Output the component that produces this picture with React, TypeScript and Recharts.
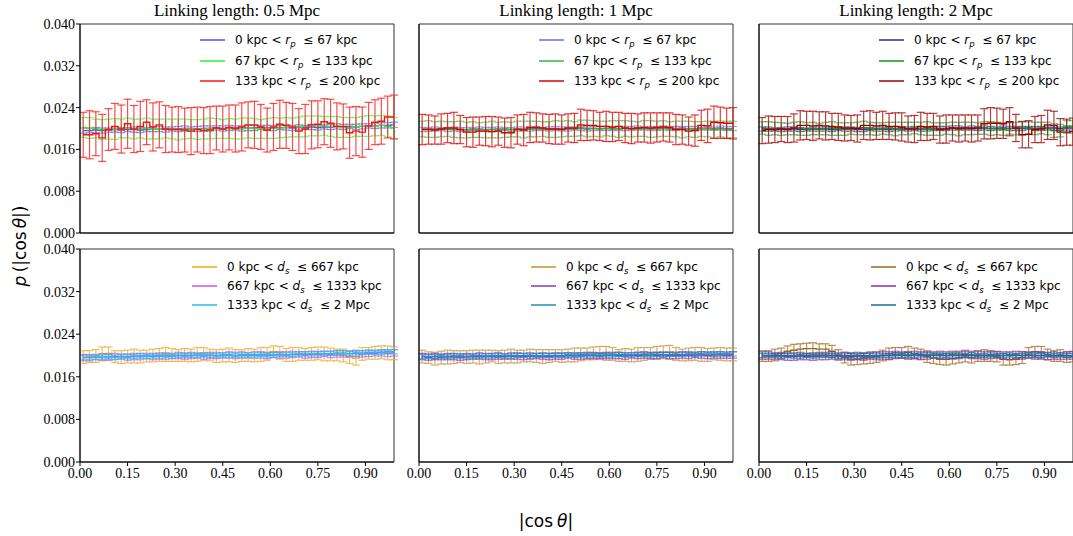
import React from 'react';
import { LineChart, Line, XAxis, YAxis, ErrorBar, ReferenceArea, Legend } from 'recharts';

// bin centres of |cos theta|
const binCenters = [0.01,0.03,0.05,0.07,0.09,0.11,0.13,0.15,0.17,0.19,0.21,0.23,0.25,0.27,0.29,0.31,0.33,0.35,0.37,0.39,0.41,0.43,0.45,0.47,0.49,0.51,0.53,0.55,0.57,0.59,0.61,0.63,0.65,0.67,0.69,0.71,0.73,0.75,0.77,0.79,0.81,0.83,0.85,0.87,0.89,0.91,0.93,0.95,0.97,0.99];

const yTicks = [0, 0.008, 0.016, 0.024, 0.032, 0.04];
const xTicks = [0, 0.15, 0.3, 0.45, 0.6, 0.75, 0.9];

const columnTitles = ['Linking length: 0.5 Mpc', 'Linking length: 1 Mpc', 'Linking length: 2 Mpc'];
const rpLower = ['0 kpc', '67 kpc', '133 kpc'];
const rpUpper = ['67 kpc', '133 kpc', '200 kpc'];
const dsLower = ['0 kpc', '667 kpc', '1333 kpc'];
const dsUpper = ['667 kpc', '1333 kpc', '2 Mpc'];

// ---- Top row: projected separation r_p ----
const ll05_rp1 = [0.0196,0.0196,0.0197,0.0196,0.0197,0.0198,0.0197,0.0198,0.0198,0.0197,0.0198,0.0199,0.0199,0.0198,0.0199,0.0199,0.0200,0.0199,0.0199,0.0200,0.0200,0.0201,0.0200,0.0201,0.0201,0.0200,0.0201,0.0201,0.0202,0.0201,0.0201,0.0202,0.0202,0.0201,0.0202,0.0202,0.0203,0.0202,0.0203,0.0203,0.0204,0.0203,0.0204,0.0203,0.0204,0.0205,0.0205,0.0206,0.0206,0.0207];
const ll05_rp1_err = [0.0005,0.0004,0.0005,0.0005,0.0004,0.0005,0.0005,0.0004,0.0005,0.0005,0.0004,0.0005,0.0005,0.0005,0.0004,0.0005,0.0005,0.0004,0.0005,0.0005,0.0005,0.0004,0.0005,0.0005,0.0004,0.0005,0.0005,0.0005,0.0004,0.0005,0.0005,0.0004,0.0005,0.0005,0.0005,0.0004,0.0005,0.0005,0.0004,0.0005,0.0005,0.0005,0.0004,0.0005,0.0005,0.0004,0.0005,0.0005,0.0005,0.0005];
const ll05_rp2 = [0.0202,0.0201,0.0200,0.0198,0.0199,0.0199,0.0200,0.0201,0.0199,0.0200,0.0200,0.0199,0.0199,0.0200,0.0199,0.0198,0.0199,0.0199,0.0198,0.0199,0.0200,0.0200,0.0199,0.0200,0.0199,0.0200,0.0201,0.0200,0.0199,0.0200,0.0201,0.0201,0.0202,0.0202,0.0203,0.0204,0.0205,0.0205,0.0205,0.0204,0.0203,0.0202,0.0202,0.0203,0.0204,0.0205,0.0205,0.0206,0.0204,0.0201];
const ll05_rp2_err = [0.0019,0.0020,0.0018,0.0019,0.0019,0.0020,0.0018,0.0019,0.0019,0.0018,0.0020,0.0019,0.0019,0.0018,0.0019,0.0020,0.0019,0.0018,0.0019,0.0019,0.0020,0.0019,0.0018,0.0019,0.0019,0.0020,0.0019,0.0019,0.0018,0.0019,0.0020,0.0019,0.0019,0.0018,0.0019,0.0020,0.0019,0.0019,0.0018,0.0019,0.0020,0.0019,0.0019,0.0018,0.0019,0.0020,0.0019,0.0019,0.0020,0.0020];
const ll05_rp3 = [0.0188,0.0188,0.0190,0.0182,0.0198,0.0204,0.0199,0.0209,0.0199,0.0204,0.0212,0.0203,0.0207,0.0199,0.0198,0.0198,0.0197,0.0195,0.0198,0.0196,0.0197,0.0201,0.0199,0.0202,0.0200,0.0203,0.0207,0.0207,0.0203,0.0197,0.0203,0.0208,0.0206,0.0203,0.0195,0.0199,0.0207,0.0208,0.0213,0.0210,0.0204,0.0204,0.0192,0.0195,0.0193,0.0205,0.0212,0.0214,0.0222,0.0222];
const ll05_rp3_err = [0.0043,0.0046,0.0042,0.0045,0.0040,0.0044,0.0046,0.0047,0.0045,0.0048,0.0043,0.0046,0.0044,0.0045,0.0043,0.0044,0.0042,0.0045,0.0043,0.0044,0.0045,0.0042,0.0044,0.0043,0.0045,0.0046,0.0044,0.0045,0.0043,0.0042,0.0045,0.0046,0.0044,0.0045,0.0043,0.0047,0.0046,0.0045,0.0044,0.0046,0.0045,0.0043,0.0049,0.0047,0.0048,0.0045,0.0043,0.0044,0.0040,0.0042];

const ll1_rp1 = [0.0198,0.0198,0.0199,0.0199,0.0198,0.0199,0.0198,0.0198,0.0199,0.0199,0.0198,0.0198,0.0199,0.0199,0.0198,0.0199,0.0199,0.0199,0.0200,0.0199,0.0199,0.0200,0.0199,0.0199,0.0200,0.0200,0.0199,0.0200,0.0200,0.0200,0.0199,0.0200,0.0200,0.0200,0.0201,0.0200,0.0200,0.0200,0.0201,0.0200,0.0200,0.0201,0.0200,0.0200,0.0201,0.0201,0.0200,0.0201,0.0200,0.0200];
const ll1_rp1_err = [0.0004,0.0004,0.0004,0.0003,0.0004,0.0004,0.0004,0.0004,0.0003,0.0004,0.0004,0.0004,0.0004,0.0003,0.0004,0.0004,0.0004,0.0004,0.0004,0.0003,0.0004,0.0004,0.0004,0.0004,0.0003,0.0004,0.0004,0.0004,0.0004,0.0004,0.0003,0.0004,0.0004,0.0004,0.0004,0.0003,0.0004,0.0004,0.0004,0.0004,0.0004,0.0003,0.0004,0.0004,0.0004,0.0004,0.0003,0.0004,0.0004,0.0004];
const ll1_rp2 = [0.0199,0.0199,0.0198,0.0199,0.0199,0.0198,0.0198,0.0197,0.0198,0.0197,0.0197,0.0198,0.0197,0.0198,0.0198,0.0199,0.0198,0.0199,0.0199,0.0199,0.0198,0.0199,0.0199,0.0200,0.0199,0.0201,0.0200,0.0200,0.0199,0.0200,0.0200,0.0199,0.0200,0.0199,0.0199,0.0200,0.0199,0.0199,0.0200,0.0199,0.0199,0.0198,0.0199,0.0198,0.0199,0.0199,0.0198,0.0199,0.0198,0.0198];
const ll1_rp2_err = [0.0015,0.0016,0.0015,0.0015,0.0014,0.0015,0.0016,0.0015,0.0015,0.0014,0.0015,0.0016,0.0015,0.0015,0.0014,0.0015,0.0016,0.0015,0.0015,0.0014,0.0015,0.0016,0.0015,0.0015,0.0014,0.0015,0.0016,0.0015,0.0015,0.0014,0.0015,0.0016,0.0015,0.0015,0.0014,0.0015,0.0016,0.0015,0.0015,0.0014,0.0015,0.0016,0.0015,0.0015,0.0014,0.0015,0.0016,0.0015,0.0016,0.0016];
const ll1_rp3 = [0.0198,0.0198,0.0197,0.0199,0.0201,0.0201,0.0198,0.0193,0.0193,0.0195,0.0195,0.0194,0.0195,0.0192,0.0192,0.0198,0.0197,0.0202,0.0202,0.0201,0.0199,0.0199,0.0198,0.0201,0.0201,0.0207,0.0206,0.0206,0.0204,0.0204,0.0203,0.0204,0.0201,0.0200,0.0201,0.0202,0.0201,0.0202,0.0203,0.0202,0.0198,0.0198,0.0195,0.0196,0.0206,0.0205,0.0212,0.0211,0.0210,0.0210];
const ll1_rp3_err = [0.0029,0.0028,0.0027,0.0029,0.0028,0.0030,0.0027,0.0028,0.0029,0.0027,0.0028,0.0029,0.0027,0.0028,0.0029,0.0028,0.0030,0.0029,0.0028,0.0027,0.0028,0.0029,0.0028,0.0027,0.0028,0.0030,0.0029,0.0028,0.0027,0.0029,0.0028,0.0027,0.0028,0.0029,0.0027,0.0028,0.0029,0.0028,0.0027,0.0028,0.0029,0.0028,0.0027,0.0030,0.0029,0.0032,0.0031,0.0030,0.0029,0.0030];

const ll2_rp1 = [0.0199,0.0199,0.0198,0.0198,0.0199,0.0199,0.0198,0.0198,0.0199,0.0199,0.0199,0.0198,0.0199,0.0199,0.0199,0.0198,0.0198,0.0199,0.0199,0.0199,0.0198,0.0199,0.0199,0.0199,0.0200,0.0199,0.0199,0.0199,0.0200,0.0200,0.0201,0.0201,0.0200,0.0201,0.0200,0.0201,0.0200,0.0200,0.0201,0.0200,0.0200,0.0200,0.0201,0.0200,0.0200,0.0201,0.0201,0.0200,0.0201,0.0201];
const ll2_rp1_err = [0.0004,0.0004,0.0003,0.0004,0.0004,0.0004,0.0004,0.0003,0.0004,0.0004,0.0004,0.0004,0.0003,0.0004,0.0004,0.0004,0.0004,0.0003,0.0004,0.0004,0.0004,0.0004,0.0003,0.0004,0.0004,0.0004,0.0004,0.0003,0.0004,0.0004,0.0004,0.0004,0.0003,0.0004,0.0004,0.0004,0.0004,0.0003,0.0004,0.0004,0.0004,0.0004,0.0003,0.0004,0.0004,0.0004,0.0004,0.0003,0.0004,0.0004];
const ll2_rp2 = [0.0201,0.0200,0.0200,0.0199,0.0199,0.0200,0.0200,0.0199,0.0200,0.0199,0.0200,0.0200,0.0199,0.0199,0.0200,0.0200,0.0201,0.0200,0.0199,0.0200,0.0200,0.0199,0.0200,0.0200,0.0201,0.0200,0.0200,0.0199,0.0199,0.0200,0.0200,0.0199,0.0200,0.0200,0.0200,0.0201,0.0200,0.0200,0.0199,0.0200,0.0200,0.0201,0.0201,0.0200,0.0201,0.0200,0.0196,0.0196,0.0203,0.0203];
const ll2_rp2_err = [0.0012,0.0013,0.0012,0.0012,0.0011,0.0012,0.0013,0.0012,0.0012,0.0011,0.0012,0.0013,0.0012,0.0012,0.0011,0.0012,0.0013,0.0012,0.0012,0.0011,0.0012,0.0013,0.0012,0.0012,0.0011,0.0012,0.0013,0.0012,0.0012,0.0011,0.0012,0.0013,0.0012,0.0012,0.0011,0.0012,0.0013,0.0012,0.0012,0.0011,0.0012,0.0013,0.0012,0.0012,0.0011,0.0012,0.0013,0.0012,0.0012,0.0012];
const ll2_rp3 = [0.0196,0.0198,0.0198,0.0199,0.0198,0.0201,0.0206,0.0206,0.0205,0.0206,0.0205,0.0204,0.0203,0.0201,0.0201,0.0200,0.0206,0.0206,0.0205,0.0206,0.0204,0.0204,0.0203,0.0199,0.0199,0.0204,0.0203,0.0204,0.0198,0.0199,0.0201,0.0200,0.0201,0.0200,0.0201,0.0209,0.0210,0.0210,0.0209,0.0213,0.0201,0.0188,0.0189,0.0198,0.0199,0.0207,0.0206,0.0193,0.0193,0.0194];
const ll2_rp3_err = [0.0025,0.0026,0.0025,0.0024,0.0025,0.0027,0.0028,0.0027,0.0028,0.0026,0.0027,0.0025,0.0026,0.0025,0.0024,0.0026,0.0027,0.0028,0.0026,0.0027,0.0025,0.0026,0.0027,0.0025,0.0026,0.0027,0.0026,0.0025,0.0026,0.0027,0.0025,0.0026,0.0025,0.0026,0.0025,0.0029,0.0030,0.0029,0.0028,0.0027,0.0026,0.0025,0.0026,0.0025,0.0026,0.0028,0.0027,0.0026,0.0025,0.0026];

// ---- Bottom row: 3D separation d_s ----
const ll05_ds1 = [0.0197,0.0198,0.0199,0.0203,0.0204,0.0198,0.0197,0.0198,0.0199,0.0198,0.0199,0.0200,0.0201,0.0202,0.0201,0.0200,0.0201,0.0200,0.0202,0.0203,0.0201,0.0199,0.0200,0.0201,0.0199,0.0200,0.0201,0.0200,0.0202,0.0203,0.0207,0.0205,0.0201,0.0202,0.0203,0.0202,0.0203,0.0204,0.0203,0.0202,0.0201,0.0200,0.0197,0.0195,0.0203,0.0204,0.0205,0.0206,0.0205,0.0204];
const ll05_ds1_err = [0.0012,0.0011,0.0012,0.0013,0.0012,0.0011,0.0012,0.0012,0.0013,0.0012,0.0011,0.0012,0.0012,0.0013,0.0012,0.0011,0.0012,0.0012,0.0013,0.0012,0.0011,0.0012,0.0012,0.0013,0.0012,0.0011,0.0012,0.0012,0.0013,0.0012,0.0011,0.0012,0.0012,0.0013,0.0012,0.0011,0.0012,0.0012,0.0013,0.0012,0.0011,0.0012,0.0012,0.0013,0.0012,0.0011,0.0012,0.0012,0.0013,0.0012];
const ll05_ds2 = [0.0196,0.0196,0.0197,0.0197,0.0197,0.0198,0.0198,0.0197,0.0198,0.0198,0.0199,0.0198,0.0199,0.0199,0.0199,0.0200,0.0199,0.0200,0.0200,0.0199,0.0200,0.0200,0.0200,0.0201,0.0200,0.0201,0.0200,0.0201,0.0201,0.0200,0.0201,0.0201,0.0201,0.0202,0.0202,0.0201,0.0202,0.0202,0.0203,0.0202,0.0203,0.0203,0.0203,0.0204,0.0203,0.0204,0.0204,0.0205,0.0204,0.0205];
const ll05_ds2_err = [0.0006,0.0006,0.0005,0.0006,0.0006,0.0006,0.0005,0.0006,0.0006,0.0006,0.0005,0.0006,0.0006,0.0006,0.0005,0.0006,0.0006,0.0006,0.0005,0.0006,0.0006,0.0006,0.0005,0.0006,0.0006,0.0006,0.0005,0.0006,0.0006,0.0006,0.0005,0.0006,0.0006,0.0006,0.0005,0.0006,0.0006,0.0006,0.0005,0.0006,0.0006,0.0006,0.0005,0.0006,0.0006,0.0006,0.0005,0.0006,0.0006,0.0006];
const ll05_ds3 = [0.0196,0.0196,0.0197,0.0197,0.0198,0.0197,0.0198,0.0198,0.0198,0.0199,0.0198,0.0199,0.0199,0.0200,0.0199,0.0200,0.0200,0.0200,0.0200,0.0201,0.0200,0.0200,0.0201,0.0201,0.0200,0.0201,0.0201,0.0201,0.0202,0.0201,0.0201,0.0202,0.0202,0.0202,0.0203,0.0203,0.0203,0.0203,0.0204,0.0204,0.0205,0.0205,0.0204,0.0205,0.0205,0.0206,0.0206,0.0206,0.0207,0.0207];
const ll05_ds3_err = [0.0004,0.0004,0.0004,0.0004,0.0004,0.0004,0.0004,0.0004,0.0004,0.0004,0.0004,0.0004,0.0004,0.0004,0.0004,0.0004,0.0004,0.0004,0.0004,0.0004,0.0004,0.0004,0.0004,0.0004,0.0004,0.0004,0.0004,0.0004,0.0004,0.0004,0.0004,0.0004,0.0004,0.0004,0.0004,0.0004,0.0004,0.0004,0.0004,0.0004,0.0004,0.0004,0.0004,0.0004,0.0004,0.0004,0.0004,0.0004,0.0004,0.0004];

const ll1_ds1 = [0.0198,0.0196,0.0194,0.0196,0.0197,0.0197,0.0198,0.0197,0.0198,0.0197,0.0198,0.0199,0.0197,0.0198,0.0199,0.0198,0.0199,0.0200,0.0199,0.0198,0.0199,0.0200,0.0199,0.0200,0.0201,0.0202,0.0203,0.0204,0.0205,0.0204,0.0203,0.0200,0.0201,0.0200,0.0202,0.0203,0.0204,0.0205,0.0206,0.0206,0.0203,0.0201,0.0202,0.0203,0.0202,0.0201,0.0203,0.0203,0.0202,0.0202];
const ll1_ds1_err = [0.0012,0.0011,0.0012,0.0012,0.0013,0.0012,0.0011,0.0012,0.0012,0.0013,0.0012,0.0011,0.0012,0.0012,0.0013,0.0012,0.0011,0.0012,0.0012,0.0013,0.0012,0.0011,0.0012,0.0012,0.0013,0.0012,0.0011,0.0012,0.0012,0.0013,0.0012,0.0011,0.0012,0.0012,0.0013,0.0012,0.0011,0.0012,0.0012,0.0013,0.0012,0.0011,0.0012,0.0012,0.0013,0.0012,0.0011,0.0012,0.0012,0.0012];
const ll1_ds2 = [0.0198,0.0197,0.0198,0.0197,0.0198,0.0198,0.0197,0.0198,0.0198,0.0199,0.0198,0.0198,0.0199,0.0198,0.0199,0.0199,0.0198,0.0199,0.0199,0.0199,0.0198,0.0199,0.0199,0.0200,0.0199,0.0199,0.0200,0.0200,0.0199,0.0200,0.0200,0.0200,0.0199,0.0200,0.0200,0.0201,0.0200,0.0200,0.0201,0.0200,0.0200,0.0201,0.0200,0.0201,0.0201,0.0200,0.0201,0.0201,0.0200,0.0201];
const ll1_ds2_err = [0.0006,0.0006,0.0006,0.0005,0.0006,0.0006,0.0006,0.0006,0.0005,0.0006,0.0006,0.0006,0.0006,0.0005,0.0006,0.0006,0.0006,0.0006,0.0005,0.0006,0.0006,0.0006,0.0006,0.0005,0.0006,0.0006,0.0006,0.0006,0.0005,0.0006,0.0006,0.0006,0.0006,0.0005,0.0006,0.0006,0.0006,0.0006,0.0005,0.0006,0.0006,0.0006,0.0006,0.0005,0.0006,0.0006,0.0006,0.0006,0.0005,0.0006];
const ll1_ds3 = [0.0198,0.0198,0.0198,0.0199,0.0198,0.0199,0.0199,0.0198,0.0199,0.0199,0.0199,0.0199,0.0200,0.0199,0.0199,0.0200,0.0200,0.0199,0.0200,0.0200,0.0200,0.0200,0.0200,0.0201,0.0200,0.0201,0.0201,0.0201,0.0201,0.0201,0.0201,0.0202,0.0201,0.0201,0.0202,0.0202,0.0201,0.0202,0.0202,0.0202,0.0202,0.0202,0.0203,0.0202,0.0203,0.0203,0.0202,0.0203,0.0203,0.0203];
const ll1_ds3_err = [0.0004,0.0004,0.0004,0.0004,0.0004,0.0004,0.0004,0.0004,0.0004,0.0004,0.0004,0.0004,0.0004,0.0004,0.0004,0.0004,0.0004,0.0004,0.0004,0.0004,0.0004,0.0004,0.0004,0.0004,0.0004,0.0004,0.0004,0.0004,0.0004,0.0004,0.0004,0.0004,0.0004,0.0004,0.0004,0.0004,0.0004,0.0004,0.0004,0.0004,0.0004,0.0004,0.0004,0.0004,0.0004,0.0004,0.0004,0.0004,0.0004,0.0004];

const ll2_ds1 = [0.0199,0.0199,0.0201,0.0204,0.0208,0.0210,0.0212,0.0213,0.0213,0.0212,0.0212,0.0208,0.0201,0.0196,0.0193,0.0193,0.0194,0.0196,0.0197,0.0200,0.0203,0.0205,0.0205,0.0206,0.0204,0.0202,0.0198,0.0195,0.0193,0.0193,0.0194,0.0196,0.0199,0.0196,0.0199,0.0200,0.0199,0.0198,0.0193,0.0192,0.0193,0.0196,0.0205,0.0207,0.0206,0.0202,0.0199,0.0200,0.0197,0.0198];
const ll2_ds1_err = [0.0010,0.0010,0.0011,0.0010,0.0010,0.0011,0.0010,0.0010,0.0011,0.0010,0.0010,0.0011,0.0010,0.0010,0.0011,0.0010,0.0010,0.0011,0.0010,0.0010,0.0011,0.0010,0.0010,0.0011,0.0010,0.0010,0.0011,0.0010,0.0010,0.0011,0.0010,0.0010,0.0011,0.0010,0.0010,0.0011,0.0010,0.0010,0.0011,0.0010,0.0010,0.0011,0.0010,0.0010,0.0011,0.0010,0.0010,0.0011,0.0010,0.0010];
const ll2_ds2 = [0.0200,0.0200,0.0199,0.0199,0.0198,0.0198,0.0199,0.0198,0.0198,0.0199,0.0199,0.0200,0.0199,0.0199,0.0198,0.0199,0.0198,0.0199,0.0199,0.0200,0.0200,0.0201,0.0201,0.0200,0.0201,0.0200,0.0200,0.0201,0.0201,0.0200,0.0201,0.0201,0.0202,0.0201,0.0201,0.0200,0.0201,0.0201,0.0200,0.0200,0.0201,0.0200,0.0201,0.0200,0.0200,0.0199,0.0200,0.0199,0.0200,0.0200];
const ll2_ds2_err = [0.0007,0.0007,0.0006,0.0007,0.0007,0.0007,0.0007,0.0006,0.0007,0.0007,0.0007,0.0007,0.0006,0.0007,0.0007,0.0007,0.0007,0.0006,0.0007,0.0007,0.0007,0.0007,0.0006,0.0007,0.0007,0.0007,0.0007,0.0006,0.0007,0.0007,0.0007,0.0007,0.0006,0.0007,0.0007,0.0007,0.0007,0.0006,0.0007,0.0007,0.0007,0.0007,0.0006,0.0007,0.0007,0.0007,0.0007,0.0006,0.0007,0.0007];
const ll2_ds3 = [0.0200,0.0200,0.0200,0.0199,0.0200,0.0199,0.0199,0.0200,0.0199,0.0200,0.0200,0.0200,0.0199,0.0199,0.0200,0.0199,0.0200,0.0200,0.0199,0.0200,0.0200,0.0201,0.0200,0.0201,0.0200,0.0201,0.0201,0.0200,0.0201,0.0200,0.0201,0.0200,0.0200,0.0201,0.0200,0.0200,0.0201,0.0200,0.0200,0.0201,0.0200,0.0200,0.0201,0.0200,0.0200,0.0201,0.0200,0.0201,0.0200,0.0200];
const ll2_ds3_err = [0.0004,0.0004,0.0004,0.0004,0.0004,0.0004,0.0004,0.0004,0.0004,0.0004,0.0004,0.0004,0.0004,0.0004,0.0004,0.0004,0.0004,0.0004,0.0004,0.0004,0.0004,0.0004,0.0004,0.0004,0.0004,0.0004,0.0004,0.0004,0.0004,0.0004,0.0004,0.0004,0.0004,0.0004,0.0004,0.0004,0.0004,0.0004,0.0004,0.0004,0.0004,0.0004,0.0004,0.0004,0.0004,0.0004,0.0004,0.0004,0.0004,0.0004];

type Series = { lo: string; hi: string; v: string; sub: string; values: number[]; errors: number[]; color: string; errOpacity: number };

const SERIF = '"Liberation Serif", "Times New Roman", serif';
const SANS = '"DejaVu Sans", sans-serif';

const RangeLabel = ({ lo, hi, v, sub }: { lo: string; hi: string; v: string; sub: string }) => (
  <span>
    {lo} &lt; <i>{v}</i>
    <span style={{ fontSize: 8.5, fontStyle: 'italic', position: 'relative', top: 3 }}>{sub}</span>
    {'\u00a0\u00a0≤ '}{hi}
  </span>
);

const LegendBox = ({ series, rowH }: { series: Series[]; rowH: number }) => (
  <div style={{ fontFamily: SANS, fontSize: 12, color: '#000' }}>
    {series.map((s, i) => (
      <div key={i} style={{ display: 'flex', alignItems: 'center', height: rowH, whiteSpace: 'nowrap' }}>
        <svg width={25} height={4} style={{ marginRight: 10, display: 'block' }}>
          <line x1={0} y1={2} x2={25} y2={2} stroke={s.color} strokeWidth={1.5} />
        </svg>
        <RangeLabel lo={s.lo} hi={s.hi} v={s.v} sub={s.sub} />
      </div>
    ))}
  </div>
);

const YTick = (props: any) => {
  const { x, y, payload } = props;
  return (
    <text x={x} y={y} dy={5} textAnchor="end" fontFamily={SERIF} fontSize={14} fill="#000">
      {Number(payload.value).toFixed(3)}
    </text>
  );
};
const XTick = (props: any) => {
  const { x, y, payload } = props;
  return (
    <text x={x} y={y} dy={11} textAnchor="middle" fontFamily={SERIF} fontSize={14} fill="#000">
      {Number(payload.value).toFixed(2)}
    </text>
  );
};

const YW = 50, MT = 15, MR = 5, XH = 30;

function Panel({ left, top, plotW, plotH, series, showY, showX, legendDX, legendDY, rowH }: any) {
  const data = binCenters.map((x, i) => {
    const row: any = { x };
    (series as Series[]).forEach((s, k) => {
      row['v' + k] = s.values[i];
      row['e' + k] = s.errors[i];
    });
    return row;
  });
  return (
    <div style={{ position: 'absolute', left: left - YW, top: top - MT }}>
      <LineChart width={YW + plotW + MR} height={MT + plotH + XH} data={data} margin={{ top: MT, right: MR, bottom: 0, left: 0 }}>
        <XAxis
          type="number"
          dataKey="x"
          domain={[0, 0.99]}
          ticks={xTicks}
          allowDataOverflow
          height={XH}
          tick={showX ? <XTick /> : false}
          tickLine={showX ? { stroke: '#000' } : false}
          tickSize={4}
          tickMargin={1}
          axisLine={{ stroke: '#000' }}
          interval={0}
        />
        <YAxis
          type="number"
          domain={[0, 0.04]}
          ticks={yTicks}
          allowDataOverflow
          width={YW}
          tick={showY ? <YTick /> : false}
          tickLine={showY ? { stroke: '#000' } : false}
          tickSize={4}
          tickMargin={1}
          axisLine={{ stroke: '#000' }}
          interval={0}
        />
        <ReferenceArea x1={0} x2={0.99} y1={0} y2={0.04} fill="none" fillOpacity={0} stroke="#333" strokeWidth={1} ifOverflow="visible" />
        {(series as Series[]).map((s, k) => (
          <Line key={k} type="step" dataKey={'v' + k} stroke={s.color} strokeWidth={1.4} dot={false} activeDot={false} isAnimationActive={false} legendType="line">
            <ErrorBar dataKey={'e' + k} width={4} stroke={s.color} strokeWidth={1.2} strokeOpacity={s.errOpacity} direction="y" />
          </Line>
        ))}
        <Legend
          layout="vertical"
          align="center"
          verticalAlign="middle"
          content={() => <LegendBox series={series} rowH={rowH} />}
          wrapperStyle={{ left: YW + legendDX, top: MT + legendDY, width: 'auto', height: 'auto', bottom: 'auto', right: 'auto' }}
        />
      </LineChart>
    </div>
  );
}

const colLeft = [80, 419, 759];
const topColors = [
  ['#4d4dff', '#33ee33', '#ff1010'],
  ['#6a6ad8', '#33bb33', '#dd0000'],
  ['#2a2aa0', '#119911', '#a00000'],
];
const botColors = [
  ['#e8a820', '#cc55ee', '#22bbee'],
  ['#c99030', '#9933bb', '#1a8fc8'],
  ['#9a6618', '#8833aa', '#1a6fa0'],
];
const topVals = [[ll05_rp1, ll05_rp2, ll05_rp3], [ll1_rp1, ll1_rp2, ll1_rp3], [ll2_rp1, ll2_rp2, ll2_rp3]];
const topErrs = [[ll05_rp1_err, ll05_rp2_err, ll05_rp3_err], [ll1_rp1_err, ll1_rp2_err, ll1_rp3_err], [ll2_rp1_err, ll2_rp2_err, ll2_rp3_err]];
const botVals = [[ll05_ds1, ll05_ds2, ll05_ds3], [ll1_ds1, ll1_ds2, ll1_ds3], [ll2_ds1, ll2_ds2, ll2_ds3]];
const botErrs = [[ll05_ds1_err, ll05_ds2_err, ll05_ds3_err], [ll1_ds1_err, ll1_ds2_err, ll1_ds3_err], [ll2_ds1_err, ll2_ds2_err, ll2_ds3_err]];

export default function App() {
  return (
    <div style={{ position: 'absolute', left: 0, top: 0, width: 1073, height: 536, background: '#fff', overflow: 'hidden' }}>
      {columnTitles.map((t, c) => (
        <div key={t} style={{ position: 'absolute', left: colLeft[c], width: 314, top: 1, textAlign: 'center', fontFamily: SERIF, fontSize: 17, color: '#000', whiteSpace: 'nowrap' }}>{t}</div>
      ))}
      {[0, 1, 2].map((c) => {
        const sTop: Series[] = [0, 1, 2].map((k) => ({ lo: rpLower[k], hi: rpUpper[k], v: 'r', sub: 'p', values: topVals[c][k], errors: topErrs[c][k], color: topColors[c][k], errOpacity: k === 2 ? 0.75 : 0.6 }));
        const sBot: Series[] = [0, 1, 2].map((k) => ({ lo: dsLower[k], hi: dsUpper[k], v: 'd', sub: 's', values: botVals[c][k], errors: botErrs[c][k], color: botColors[c][k], errOpacity: 0.7 }));
        return (
          <React.Fragment key={c}>
            <Panel left={colLeft[c]} top={24} plotW={314} plotH={209} series={sTop} showY={c === 0} showX={false} legendDX={120} legendDY={6} rowH={20.5} />
            <Panel left={colLeft[c]} top={249} plotW={314} plotH={213} series={sBot} showY={c === 0} showX={true} legendDX={112} legendDY={8} rowH={19.3} />
          </React.Fragment>
        );
      })}
      <div style={{ position: 'absolute', left: 20, top: 246, transform: 'translate(-50%, -50%) rotate(-90deg)', fontFamily: SANS, fontSize: 17, whiteSpace: 'nowrap', color: '#000' }}>
        <i>p</i>{'\u2009'}(|cos<span style={{ marginLeft: 3 }} /><i>θ</i>|)
      </div>
      <div style={{ position: 'absolute', left: 546, top: 521, transform: 'translate(-50%, -50%)', fontFamily: SANS, fontSize: 17, whiteSpace: 'nowrap', color: '#000' }}>
        |cos<span style={{ marginLeft: 4 }} /><i>θ</i>|
      </div>
    </div>
  );
}
